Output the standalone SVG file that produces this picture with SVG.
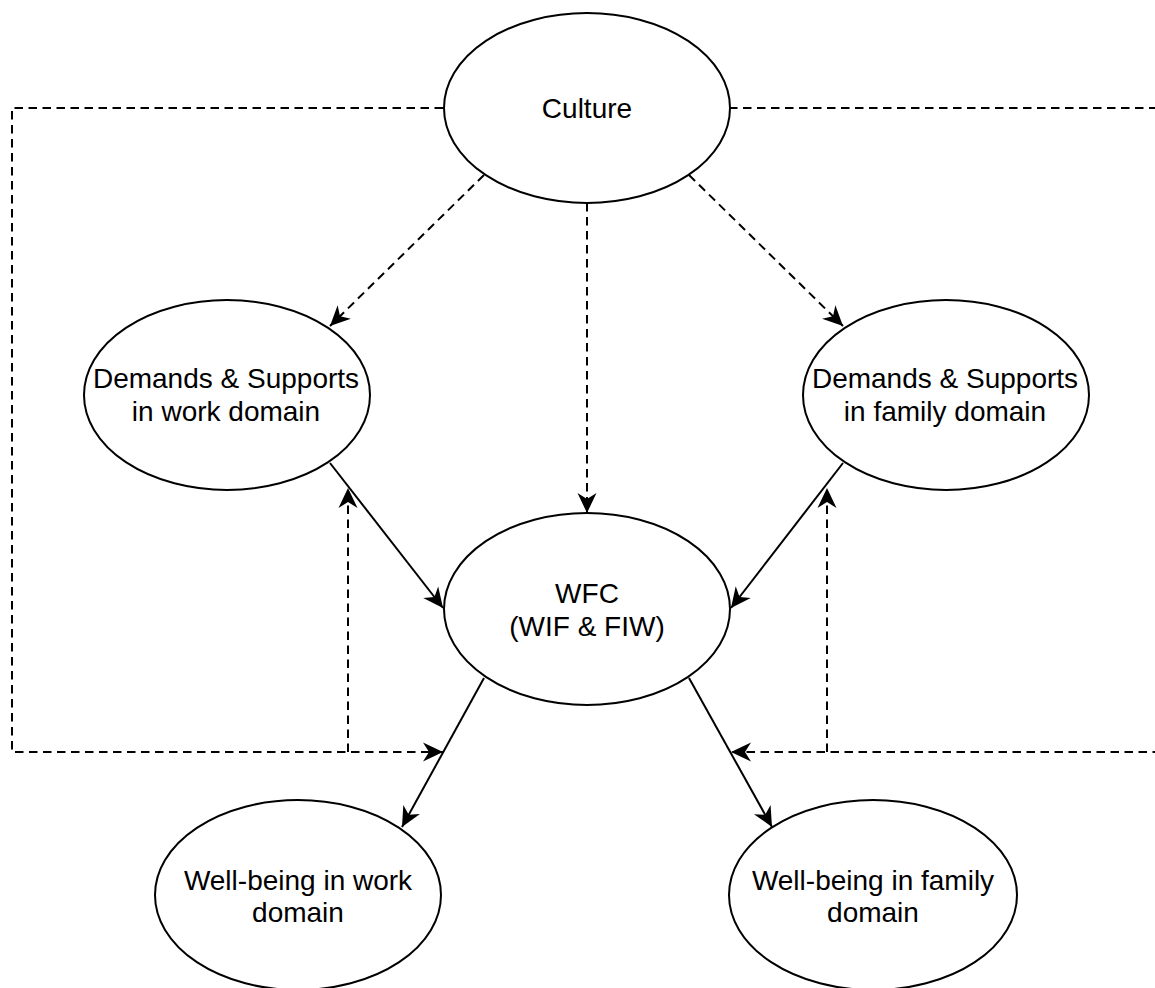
<svg xmlns="http://www.w3.org/2000/svg" width="1155" height="988" viewBox="0 0 1155 988">
  <style>
    .node ellipse { fill: #ffffff; stroke: #000000; stroke-width: 2; }
    .node text { font-family: "Liberation Sans", Arial, Helvetica, sans-serif; font-size: 28px; fill: #000000; text-anchor: middle; }
    .edge { fill: none; stroke: #000000; stroke-width: 2; }
    .dash { stroke-dasharray: 8.5 5.5; }
  </style>
  <defs>
    <marker id="arrow" markerUnits="userSpaceOnUse" viewBox="-21 -10 22 20" refX="0" refY="0" markerWidth="22" markerHeight="20" orient="auto">
      <path d="M0,0 L-20,-9.5 L-14,0 L-20,9.5 Z" fill="#000000" stroke="none"/>
    </marker>
  </defs>

  <rect width="1155" height="988" fill="#ffffff"/>

  <!-- connectors -->
  <g id="connectors">
    <!-- culture influences (dashed) -->
    <path class="edge dash" d="M484,175 L330,326" marker-end="url(#arrow)"/>
    <path class="edge dash" d="M689,175 L843,326" marker-end="url(#arrow)"/>
    <path class="edge dash" d="M587,203 L587,513" marker-end="url(#arrow)"/>
    <!-- culture moderating paths -->
    <path class="edge dash" d="M443,108 H12 V752 H443" marker-end="url(#arrow)"/>
    <path class="edge dash" d="M348,752 V488" marker-end="url(#arrow)"/>
    <path class="edge dash" d="M729,108 H1162 V752 H731" marker-end="url(#arrow)"/>
    <path class="edge dash" d="M827,752 V488" marker-end="url(#arrow)"/>
    <!-- main paths (solid) -->
    <path class="edge" d="M330,463 L443,608" marker-end="url(#arrow)"/>
    <path class="edge" d="M843,463 L731,608" marker-end="url(#arrow)"/>
    <path class="edge" d="M484,678 L402,827" marker-end="url(#arrow)"/>
    <path class="edge" d="M689,678 L772,827" marker-end="url(#arrow)"/>
  </g>

  <g id="culture" class="node">
    <ellipse cx="587" cy="108" rx="143" ry="95"/>
    <text x="587" y="118">Culture</text>
  </g>

  <g id="demands-work" class="node">
    <ellipse cx="227" cy="395" rx="143" ry="95"/>
    <text x="226" y="388">Demands &amp; Supports</text>
    <text x="226" y="421">in work domain</text>
  </g>

  <g id="demands-family" class="node">
    <ellipse cx="946" cy="395" rx="143" ry="95"/>
    <text x="945" y="388">Demands &amp; Supports</text>
    <text x="945" y="421">in family domain</text>
  </g>

  <g id="wfc" class="node">
    <ellipse cx="587" cy="609" rx="143" ry="96"/>
    <text x="587" y="603">WFC</text>
    <text x="587" y="636">(WIF &amp; FIW)</text>
  </g>

  <g id="wellbeing-work" class="node">
    <ellipse cx="298" cy="895" rx="143" ry="95"/>
    <text x="298" y="890">Well-being in work</text>
    <text x="298" y="922">domain</text>
  </g>

  <g id="wellbeing-family" class="node">
    <ellipse cx="873" cy="895" rx="144" ry="95"/>
    <text x="873" y="890">Well-being in family</text>
    <text x="873" y="922">domain</text>
  </g>
</svg>
